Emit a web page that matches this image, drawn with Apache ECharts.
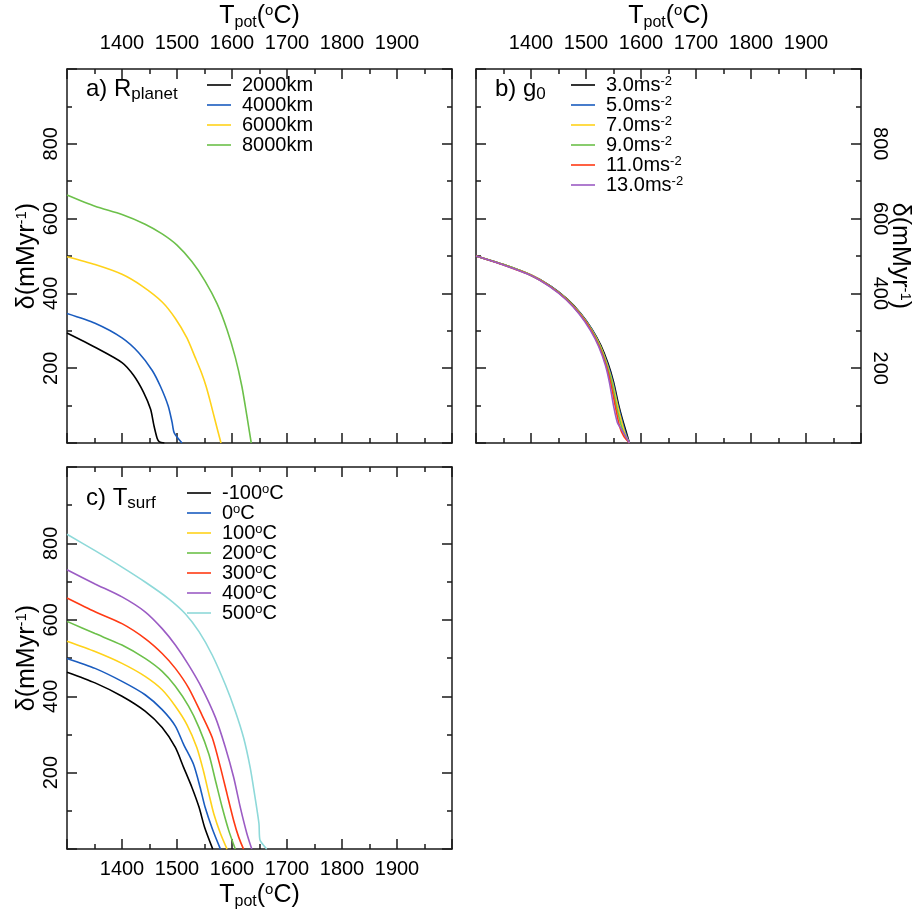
<!DOCTYPE html>
<html>
<head>
<meta charset="utf-8">
<script src="https://cdn.jsdelivr.net/npm/echarts@6/dist/echarts.min.js"></script>
<style>
  html, body { margin: 0; padding: 0; background: #fff; }
  #chart { width: 918px; height: 911px; }
</style>
</head>
<body>
<div id="chart"></div>
<script>
// Tick labels shown on the axes
const tempTicks = [1400, 1500, 1600, 1700, 1800, 1900];
const deltaTicks = [200, 400, 600, 800];

// a) planet radius  — [Tpot (°C), delta (m/Myr)]
const radiusNames = ['2000km', '4000km', '6000km', '8000km'];
const radius2000 = [[1300,294],[1351,256],[1400,215],[1421,181],[1439,136],[1452,90],[1458,47],[1464,12],[1468,3],[1477,0]];
const radius4000 = [[1300,346],[1351,320],[1400,281],[1430,242],[1455,194],[1470,151],[1484,99],[1491,56],[1495,27],[1509,0]];
const radius6000 = [[1300,498],[1351,477],[1400,451],[1436,420],[1473,377],[1497,333],[1518,281],[1533,229],[1545,186],[1553,151],[1561,108],[1570,56],[1580,0]];
const radius8000 = [[1300,663],[1351,633],[1400,611],[1442,585],[1473,559],[1500,529],[1527,485],[1551,433],[1573,372],[1591,303],[1606,229],[1618,151],[1627,73],[1635,0]];

// b) surface gravity
const gravityNames = ['3.0ms-2', '5.0ms-2', '7.0ms-2', '9.0ms-2', '11.0ms-2', '13.0ms-2'];
const gravity3  = [[1300,500],[1350,477],[1400,449],[1435,420],[1465,386],[1490,347],[1511,304],[1527,261],[1540,213],[1550,164],[1559,104],[1568,54],[1574,25],[1579,0]];
const gravity5  = [[1300,500],[1350,477],[1400,449],[1435,420],[1465,385],[1490,346],[1511,303],[1526,260],[1539,212],[1549,163],[1558,103],[1567,52],[1573,23],[1579,0]];
const gravity7  = [[1300,500],[1350,477],[1400,449],[1435,419],[1465,385],[1490,345],[1510,303],[1526,259],[1538,211],[1548,162],[1557,102],[1566,50],[1572,21],[1579,0]];
const gravity9  = [[1300,500],[1350,477],[1400,448],[1435,419],[1465,384],[1489,345],[1510,302],[1525,259],[1537,211],[1547,161],[1555,101],[1564,47],[1571,19],[1579,0]];
const gravity11 = [[1300,500],[1350,476],[1400,448],[1435,418],[1464,384],[1489,344],[1509,302],[1524,258],[1536,210],[1545,160],[1553,100],[1561,45],[1569,17],[1579,0]];
const gravity13 = [[1300,500],[1350,476],[1400,448],[1434,418],[1464,383],[1488,344],[1508,301],[1523,258],[1535,209],[1543,159],[1550,100],[1557,55],[1563,40],[1579,0]];

// c) surface temperature
const surfaceNames = ['-100°C', '0°C', '100°C', '200°C', '300°C', '400°C', '500°C'];
const surfM100 = [[1300,463],[1351,435],[1400,400],[1442,361],[1473,318],[1497,266],[1512,214],[1527,162],[1540,110],[1550,58],[1565,0]];
const surf0    = [[1300,499],[1351,473],[1400,439],[1442,404],[1473,365],[1497,322],[1512,274],[1530,222],[1542,162],[1551,110],[1564,54],[1579,0]];
const surf100  = [[1300,544],[1351,517],[1400,486],[1442,452],[1473,417],[1497,374],[1518,326],[1536,266],[1548,205],[1558,144],[1567,92],[1579,41],[1591,0]];
const surf200  = [[1300,596],[1351,564],[1400,534],[1442,499],[1473,465],[1497,426],[1521,374],[1540,318],[1558,248],[1570,179],[1582,110],[1594,49],[1606,0]];
const surf300  = [[1300,657],[1351,621],[1400,590],[1442,551],[1473,512],[1497,473],[1521,422],[1545,352],[1564,292],[1579,214],[1591,144],[1603,75],[1612,32],[1621,0]];
const surf400  = [[1300,731],[1351,694],[1400,660],[1442,621],[1473,577],[1497,534],[1521,482],[1545,422],[1570,344],[1588,266],[1603,188],[1615,110],[1627,41],[1636,0]];
const surf500  = [[1300,824],[1351,781],[1400,738],[1442,699],[1485,655],[1515,616],[1540,569],[1564,508],[1588,430],[1606,361],[1621,292],[1633,214],[1641,144],[1649,67],[1651,23],[1663,0]];

const palette = ['#000000', '#1a5cbf', '#ffd21a', '#6cc04a', '#ff3a14', '#9b5cc4', '#8ed9d9'];
const FONT = '"Liberation Sans", Arial, Helvetica, sans-serif';
const INK = '#1a1a1a';

const nameRich = {
  m: { fontSize: 25, fontFamily: FONT, color: '#000', lineHeight: 30 },
  s: { fontSize: 16, fontFamily: FONT, color: '#000', lineHeight: 15, verticalAlign: 'bottom' },
  o: { fontSize: 15, fontFamily: FONT, color: '#000', lineHeight: 15, verticalAlign: 'top', padding: [2, 0, 0, 0] }
};
const tempName = '{m|T}{s|pot}{m|(}{o|o}{m|C)}';
const deltaName = '{m|δ(mMyr}{o|-1}{m|)}';

function axisBase(extra) {
  return Object.assign({
    type: 'value',
    axisLine: { show: true, onZero: false, lineStyle: { color: INK, width: 1.5 } },
    axisTick: { show: true, inside: true, length: 10, lineStyle: { color: INK, width: 1.5 } },
    minorTick: { show: true, splitNumber: 2, length: 5, lineStyle: { color: INK, width: 1.5 } },
    splitLine: { show: false },
    minorSplitLine: { show: false },
    nameLocation: 'middle',
    nameTextStyle: { rich: nameRich }
  }, extra);
}

function tempAxis(grid, position, showLabels, withName) {
  return axisBase({
    gridIndex: grid, position: position,
    min: 1300, max: 2000, interval: 100,
    axisLabel: {
      show: showLabels, fontSize: 20, fontFamily: FONT, color: '#000',
      margin: position === 'top' ? 16 : 10,
      formatter: v => tempTicks.includes(v) ? String(v) : ''
    },
    name: withName ? tempName : '',
    nameGap: position === 'top' ? 38 : 30
  });
}

function deltaAxis(grid, position, showLabels, withName) {
  return axisBase({
    gridIndex: grid, position: position,
    min: 0, max: 1000, interval: 200,
    axisLabel: {
      show: showLabels, fontSize: 20, fontFamily: FONT, color: '#000',
      margin: position === 'left' ? 6 : 9,
      rotate: position === 'left' ? 90 : -90,
      formatter: v => deltaTicks.includes(v) ? String(v) : ''
    },
    name: withName ? deltaName : '',
    nameRotate: position === 'left' ? 90 : -90,
    nameGap: position === 'left' ? 23 : 24,
    nameMoveOverlap: position === 'left'
  });
}

function curve(name, data, color, axisIdx) {
  return {
    name: name, type: 'line', data: data,
    xAxisIndex: axisIdx, yAxisIndex: axisIdx,
    showSymbol: false, symbol: 'none', clip: true,
    smooth: 0.25,
    itemStyle: { color: color },
    lineStyle: { color: color, width: 1.6 },
    animation: false, silent: true
  };
}

const legendRich = {
  o: { fontSize: 13, fontFamily: FONT, color: '#000', lineHeight: 13, verticalAlign: 'top' }
};
function legendLabel(name) {
  if (name.endsWith('ms-2')) return name.slice(0, -2) + '{o|-2}';
  if (name.endsWith('°C')) return name.slice(0, -2) + '{o|o}C';
  return name;
}
function legendBlock(names, left, top) {
  return {
    data: names, left: left, top: top, orient: 'vertical',
    icon: 'rect', itemWidth: 24, itemHeight: 1.6, itemGap: 0, padding: 0,
    selectedMode: false,
    textStyle: { fontSize: 20, fontFamily: FONT, color: '#000', lineHeight: 20, padding: [0, 0, 0, 6], rich: legendRich },
    formatter: legendLabel
  };
}

const panelRich = {
  m: { fontSize: 24, fontFamily: FONT, fontWeight: 'normal', color: '#000', lineHeight: 28 },
  s: { fontSize: 17, fontFamily: FONT, fontWeight: 'normal', color: '#000', lineHeight: 15, verticalAlign: 'bottom' },
  z: { fontSize: 17, fontFamily: FONT, fontWeight: 'normal', color: '#000', lineHeight: 23, verticalAlign: 'bottom' }
};

const option = {
  backgroundColor: '#fff',
  animation: false,
  grid: [
    { left: 67, top: 59, width: 385, height: 384 },
    { left: 476, top: 59, width: 385, height: 384 },
    { left: 67, top: 467, width: 385, height: 385 }
  ],
  title: [
    { text: '{m|a) R}{s|planet}', left: 86, top: 75, padding: 0, textStyle: { fontWeight: 'normal', rich: panelRich } },
    { text: '{m|b) g}{z|0}', left: 495, top: 75, padding: 0, textStyle: { fontWeight: 'normal', rich: panelRich } },
    { text: '{m|c) T}{s|surf}', left: 86, top: 484, padding: 0, textStyle: { fontWeight: 'normal', rich: panelRich } }
  ],
  legend: [
    legendBlock(radiusNames, 207, 75),
    legendBlock(gravityNames, 571, 75),
    legendBlock(surfaceNames, 187, 483)
  ],
  xAxis: [
    tempAxis(0, 'bottom', false, false), tempAxis(0, 'top', true, true),
    tempAxis(1, 'bottom', false, false), tempAxis(1, 'top', true, true),
    tempAxis(2, 'bottom', true, true),   tempAxis(2, 'top', false, false)
  ],
  yAxis: [
    deltaAxis(0, 'left', true, true),   deltaAxis(0, 'right', false, false),
    deltaAxis(1, 'left', false, false), deltaAxis(1, 'right', true, true),
    deltaAxis(2, 'left', true, true),   deltaAxis(2, 'right', false, false)
  ],
  series: [
    curve(radiusNames[0], radius2000, palette[0], 0),
    curve(radiusNames[1], radius4000, palette[1], 0),
    curve(radiusNames[2], radius6000, palette[2], 0),
    curve(radiusNames[3], radius8000, palette[3], 0),

    curve(gravityNames[0], gravity3,  palette[0], 2),
    curve(gravityNames[1], gravity5,  palette[1], 2),
    curve(gravityNames[2], gravity7,  palette[2], 2),
    curve(gravityNames[3], gravity9,  palette[3], 2),
    curve(gravityNames[4], gravity11, palette[4], 2),
    curve(gravityNames[5], gravity13, palette[5], 2),

    curve(surfaceNames[0], surfM100, palette[0], 4),
    curve(surfaceNames[1], surf0,    palette[1], 4),
    curve(surfaceNames[2], surf100,  palette[2], 4),
    curve(surfaceNames[3], surf200,  palette[3], 4),
    curve(surfaceNames[4], surf300,  palette[4], 4),
    curve(surfaceNames[5], surf400,  palette[5], 4),
    curve(surfaceNames[6], surf500,  palette[6], 4)
  ]
};

const chart = echarts.init(document.getElementById('chart'), null, { renderer: 'canvas' });
chart.setOption(option);
</script>
</body>
</html>
